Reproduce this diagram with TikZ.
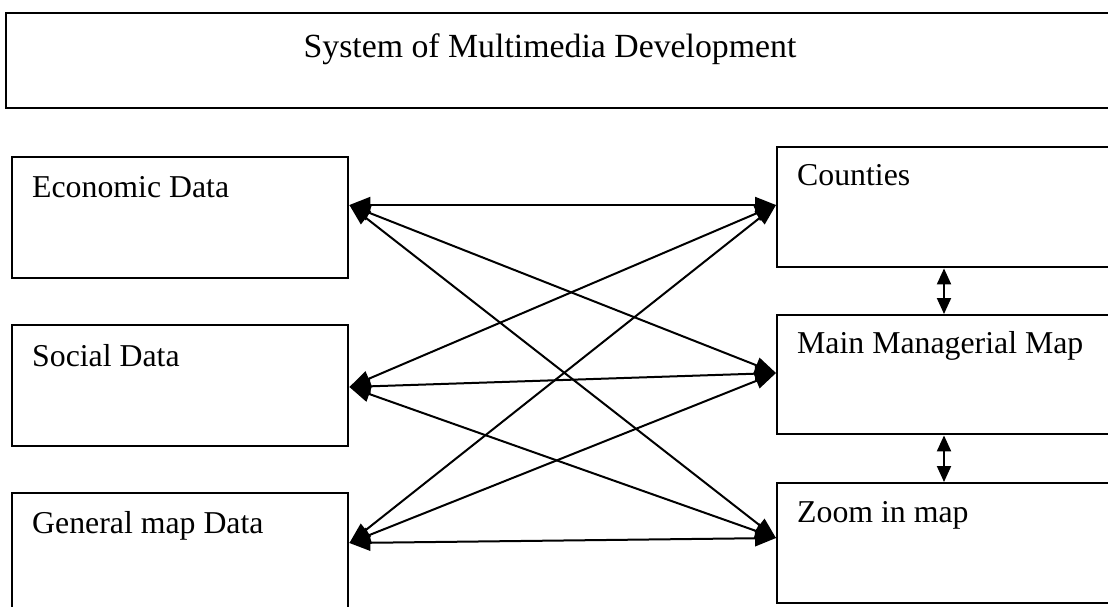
\documentclass[tikz,border=0pt]{standalone}
\usepackage{fontspec}
\setmainfont{Liberation Serif}
\usetikzlibrary{arrows.meta}
\begin{document}
\begin{tikzpicture}[x=1pt,y=-1pt,
  box/.style={draw=black, line width=2.4pt, rectangle, inner sep=0pt, anchor=north west},
  lbl/.style={inner sep=0pt, anchor=base west, font=\fontsize{31.8}{38}\selectfont},
  conn/.style={line width=2pt, {Triangle[length=21pt,width=16pt]}-{Triangle[length=21pt,width=16pt]}},
  vconn/.style={line width=2pt, {Triangle[length=16pt,width=14pt]}-{Triangle[length=16pt,width=14pt]}}
]
\useasboundingbox (0,0) rectangle (1108,606);
\clip (0,0) rectangle (1108,606);
\fill[white] (0,0) rectangle (1108,606);

% title
\node[box, minimum width=1130pt, minimum height=95pt] (title) at (5,12) {};
\node[inner sep=0pt, anchor=base, font=\fontsize{33.8}{40}\selectfont] (titletxt) at (550,57) {System of Multimedia Development};

% left boxes
\node[box, minimum width=336pt, minimum height=121pt] (eco) at (11,156) {};
\node[lbl] (ecotxt) at (32,197) {Economic Data};
\node[box, minimum width=336pt, minimum height=121pt] (soc) at (11,324) {};
\node[lbl] (soctxt) at (32,366) {Social Data};
\node[box, minimum width=336pt, minimum height=130pt] (gen) at (11,492) {};
\node[lbl] (gentxt) at (32,533) {General map Data};

% right boxes
\node[box, minimum width=360pt, minimum height=120pt] (cou) at (776,146) {};
\node[lbl] (coutxt) at (797,185) {Counties};
\node[box, minimum width=360pt, minimum height=119pt] (mmm) at (776,314) {};
\node[lbl] (mmmtxt) at (797,353) {Main Managerial Map};
\node[box, minimum width=360pt, minimum height=120pt] (zoo) at (776,482) {};
\node[lbl] (zootxt) at (797,522) {Zoom in map};

% connection points
\coordinate (e1) at ([yshift=-49pt]eco.north east);
\coordinate (s1) at ([yshift=-63pt]soc.north east);
\coordinate (g1) at ([yshift=-51pt]gen.north east);
\coordinate (c1) at ([yshift=-59pt]cou.north west);
\coordinate (m1) at ([yshift=-59pt]mmm.north west);
\coordinate (z1) at ([yshift=-56pt]zoo.north west);

\foreach \a in {e1,s1,g1}{
  \foreach \b in {c1,m1,z1}{
    \draw[conn] (\a) -- (\b);
  }
}

% vertical arrows
\coordinate (cb) at ([xshift=168pt]cou.south west);
\coordinate (mt) at ([xshift=168pt]mmm.north west);
\coordinate (mb) at ([xshift=168pt]mmm.south west);
\coordinate (zt) at ([xshift=168pt]zoo.north west);
\draw[vconn] (cb) -- (mt);
\draw[vconn] (mb) -- (zt);
\end{tikzpicture}
\end{document}
